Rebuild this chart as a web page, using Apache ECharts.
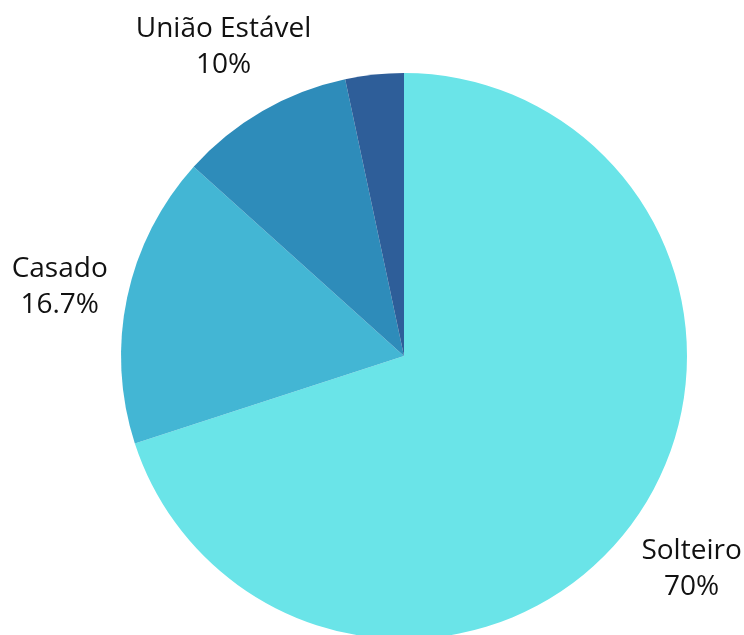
<!DOCTYPE html>
<html>
<head>
<meta charset="utf-8">
<script src="https://cdn.jsdelivr.net/npm/echarts@6/dist/echarts.min.js"></script>
<style>
  html, body { margin: 0; padding: 0; background: #fff; }
  #pieChart { width: 744px; height: 635px; }
</style>
</head>
<body>
<div id="pieChart"></div>
<script>
  // dados
  var categories = ['Solteiro', 'Casado', 'União Estável', 'Divorciado'];
  var counts = [21, 5, 3, 1];
  var sliceColors = ['#6ae4e8', '#43b6d4', '#2e8cba', '#2e5e99'];

  var pieData = categories.map(function (name, i) {
    return { name: name, value: counts[i], itemStyle: { color: sliceColors[i] } };
  });

  // ajuste fino dos rotulos (o ultimo fica escondido)
  var labelStyle = [
    { offset: [2, 4] },
    { offset: [1, 2] },
    { offset: [-4, -5] },
    { show: false }
  ];
  // serie fantasma so para posicionar os rotulos centralizados fora do circulo
  var labelData = categories.map(function (name, i) {
    return { name: name, value: counts[i], label: labelStyle[i] };
  });

  var myChart = echarts.init(document.getElementById('pieChart'));
  myChart.setOption({
    animation: false,
    series: [{
      type: 'pie',
      center: [404, 356],
      radius: [0, 283],
      startAngle: 90,
      clockwise: true,
      label: { show: false },
      labelLine: { show: false },
      emphasis: { disabled: true },
      data: pieData
    }, {
      type: 'pie',
      silent: true,
      center: [404, 358],
      radius: [340, 360],
      startAngle: 90,
      clockwise: true,
      percentPrecision: 1,
      itemStyle: { color: 'rgba(0,0,0,0)' },
      label: {
        position: 'inside',
        formatter: '{b}\n{d}%',
        color: '#111',
        fontFamily: 'Open Sans',
        fontSize: 28,
        lineHeight: 36,
        align: 'center'
      },
      labelLine: { show: false },
      data: labelData
    }]
  });
</script>
</body>
</html>
